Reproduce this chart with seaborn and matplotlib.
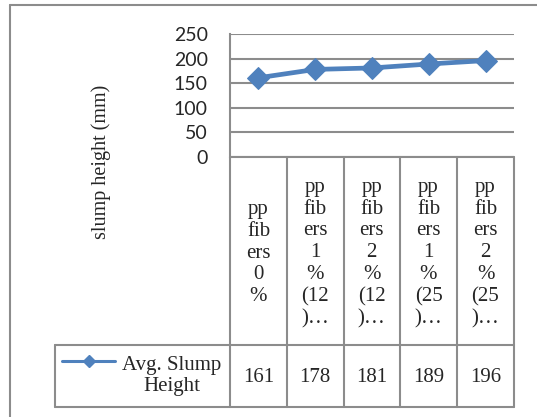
import matplotlib
matplotlib.use("Agg")
import matplotlib.pyplot as plt
from matplotlib.lines import Line2D
import seaborn as sns
import pandas as pd

# data
categories = ["pp\nfib\ners\n0\n%",
              "pp\nfib\ners\n1\n%\n(12\n)…",
              "pp\nfib\ners\n2\n%\n(12\n)…",
              "pp\nfib\ners\n1\n%\n(25\n)…",
              "pp\nfib\ners\n2\n%\n(25\n)…"]
slump = [161, 178, 181, 189, 196]
series_name = "Avg. Slump\nHeight"
y_ticks = [0, 50, 100, 150, 200, 250]

W, H = 537, 417
blue = "#4F81BD"
grey = "#8C8C8C"
serif = ["Liberation Serif", "DejaVu Serif"]

sns.set_style("white")
plt.rcParams["font.family"] = ["Lato", "DejaVu Sans"]

fig = plt.figure(figsize=(W / 100, H / 100), dpi=100)


def fx(px):
    return px / W


def fy(py):
    return 1 - py / H


def hline(x0, x1, y, lw=1.5):
    fig.add_artist(Line2D([fx(x0), fx(x1)], [fy(y), fy(y)], transform=fig.transFigure,
                          color=grey, lw=lw))


def vline(x, y0, y1, lw=1.5):
    fig.add_artist(Line2D([fx(x), fx(x)], [fy(y0), fy(y1)], transform=fig.transFigure,
                          color=grey, lw=lw))


# plot area
left, right, top, bottom = 230, 514, 34, 157
ax = fig.add_axes([fx(left), fy(bottom), fx(right) - fx(left), (bottom - top) / H])

df = pd.DataFrame({"pos": range(len(slump)), "slump": slump})
sns.lineplot(data=df, x="pos", y="slump", ax=ax, color=blue, lw=3.4,
             marker="D", markersize=11, markeredgecolor=blue, zorder=3)

ax.set_xlim(-0.5, len(slump) - 0.5)
ax.set_ylim(0, 250)
ax.set_yticks(y_ticks)
ax.set_xticks([])
ax.set_xlabel("")
ax.set_ylabel("")
ax.tick_params(axis="y", length=0, pad=16, labelsize=14)
ax.yaxis.grid(True, color=grey, lw=1.5)
for s in ["top", "right", "bottom"]:
    ax.spines[s].set_visible(False)
ax.spines["left"].set_color(grey)
ax.spines["left"].set_linewidth(1.5)
ax.set_axisbelow(True)

# outer chart frame (top and left only visible)
hline(10, 537, 5)
vline(10, 5, 417)

fig.text(fx(101), fy(162), "slump height (mm)", rotation=90, ha="center", va="center",
         family=serif, fontsize=14.5)

# data table below the axes
cols = [230, 287, 343.5, 400, 457, 514]
head_top, head_bot, row_bot, leg_left = 157, 345, 407, 55
hline(cols[0], cols[-1], head_top)
hline(leg_left, cols[-1], head_bot)
hline(leg_left, cols[-1], row_bot)
for c in cols:
    vline(c, head_top, row_bot)
vline(leg_left, head_bot, row_bot)

row_mid = (head_bot + row_bot) / 2 + 1
for i, (lab, v) in enumerate(zip(categories, slump)):
    cx = (cols[i] + cols[i + 1]) / 2
    fig.text(fx(cx), fy((head_top + head_bot) / 2 + 2), lab, ha="center", va="center",
             family=serif, fontsize=15, linespacing=1.2)
    fig.text(fx(cx), fy(row_mid), str(v), ha="center", va="center",
             family=serif, fontsize=15)

# legend key in the table
fig.add_artist(Line2D([fx(62), fx(115)], [fy(361), fy(361)], transform=fig.transFigure,
                      color=blue, lw=2.2))
fig.add_artist(Line2D([fx(89)], [fy(361)], transform=fig.transFigure,
                      color=blue, marker="D", markersize=6.5, lw=0))
fig.text(fx(172), fy(376), series_name, ha="center", va="center", multialignment="center",
         family=serif, fontsize=15, linespacing=1.2)

fig.savefig("out.png", dpi=100)
